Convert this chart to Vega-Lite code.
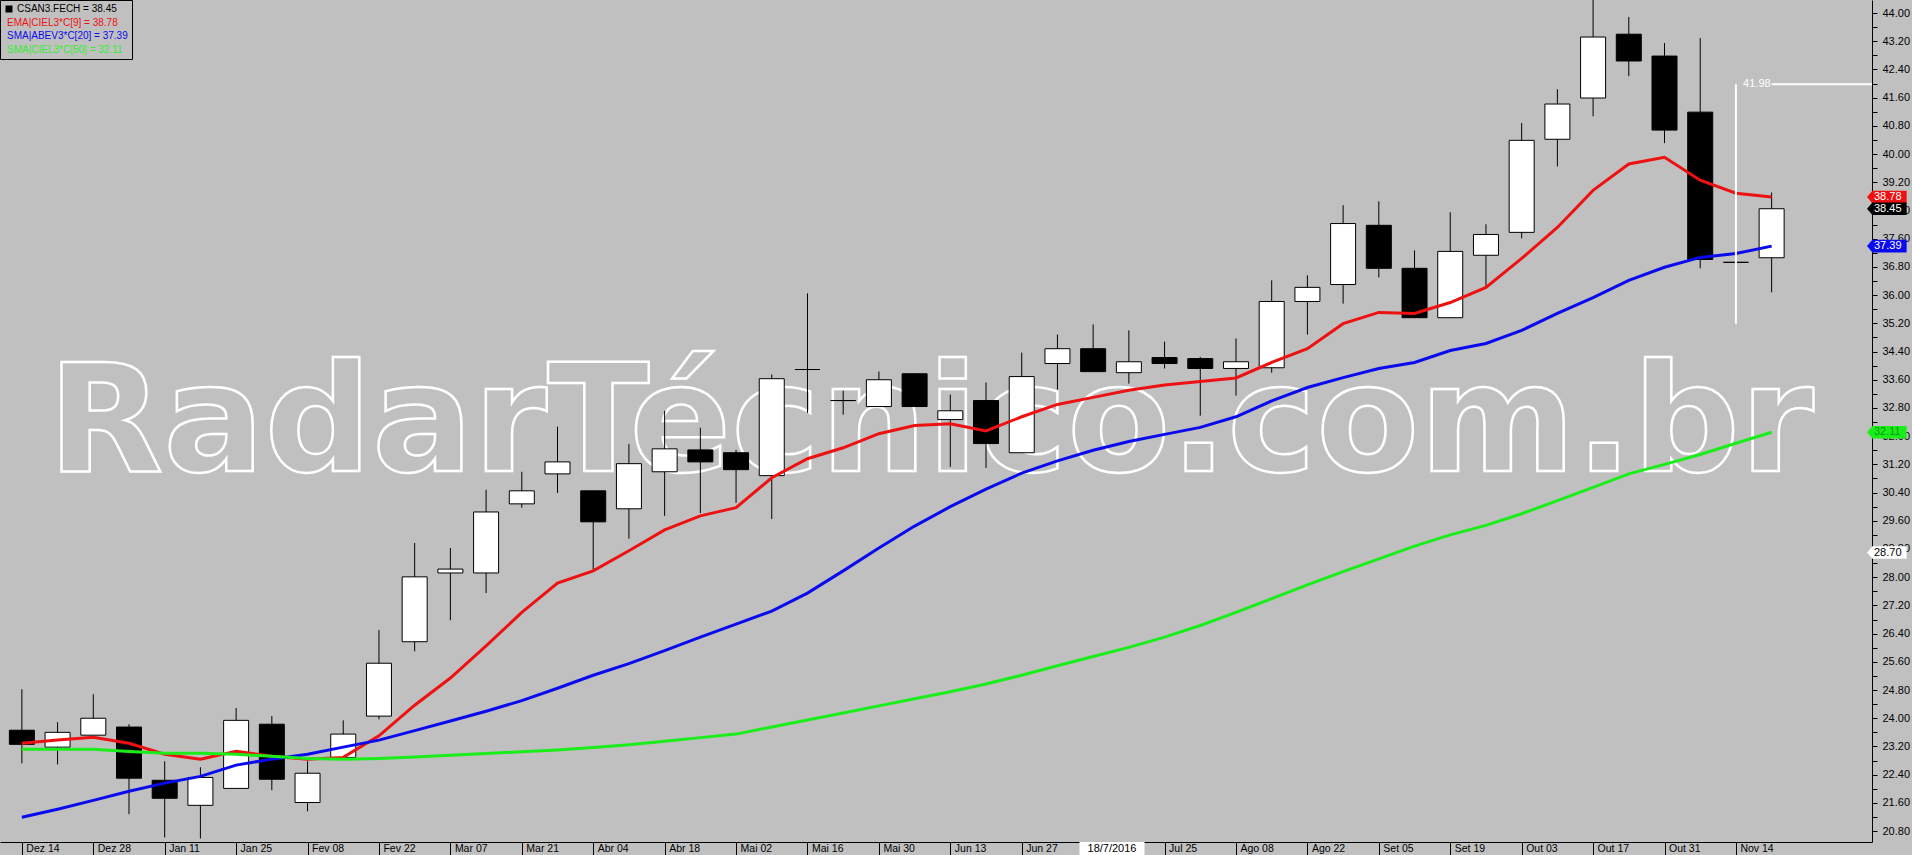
{
  "$schema": "https://vega.github.io/schema/vega-lite/v6.json",
  "width": 1872,
  "height": 842,
  "autosize": {"type": "none"},
  "padding": {"left": 0, "top": 0, "right": 40, "bottom": 13},
  "background": "#c0c0c0",
  "config": {
    "view": {"stroke": null},
    "font": "Liberation Sans",
    "axis": {"labelOverlap": false, "labelFlush": false, "labelBound": false, "grid": false, "title": null}
  },
  "datasets": {
    "semanas": [
      {"d": "2015-12-14", "o": 23.66, "h": 24.82, "l": 22.72, "c": 23.26, "ema9": 23.29, "sma20": 21.19, "sma50": 23.12},
      {"d": "2015-12-21", "o": 23.18, "h": 23.89, "l": 22.69, "c": 23.60, "ema9": 23.38, "sma20": 21.42, "sma50": 23.12},
      {"d": "2015-12-28", "o": 23.52, "h": 24.68, "l": 23.52, "c": 24.00, "ema9": 23.46, "sma20": 21.67, "sma50": 23.12},
      {"d": "2016-01-04", "o": 23.75, "h": 23.83, "l": 21.28, "c": 22.30, "ema9": 23.29, "sma20": 21.93, "sma50": 23.06},
      {"d": "2016-01-11", "o": 22.24, "h": 22.78, "l": 20.62, "c": 21.73, "ema9": 22.98, "sma20": 22.16, "sma50": 23.01},
      {"d": "2016-01-18", "o": 21.53, "h": 22.61, "l": 20.59, "c": 22.32, "ema9": 22.84, "sma20": 22.35, "sma50": 23.01},
      {"d": "2016-01-25", "o": 22.01, "h": 24.29, "l": 22.01, "c": 23.94, "ema9": 23.06, "sma20": 22.67, "sma50": 22.98},
      {"d": "2016-02-01", "o": 23.83, "h": 24.06, "l": 21.96, "c": 22.27, "ema9": 22.92, "sma20": 22.84, "sma50": 22.92},
      {"d": "2016-02-08", "o": 21.61, "h": 22.78, "l": 21.36, "c": 22.44, "ema9": 22.84, "sma20": 22.98, "sma50": 22.86},
      {"d": "2016-02-15", "o": 22.89, "h": 23.94, "l": 22.89, "c": 23.55, "ema9": 22.89, "sma20": 23.18, "sma50": 22.84},
      {"d": "2016-02-22", "o": 24.06, "h": 26.50, "l": 23.97, "c": 25.56, "ema9": 23.50, "sma20": 23.38, "sma50": 22.86},
      {"d": "2016-02-29", "o": 26.17, "h": 28.97, "l": 25.90, "c": 28.01, "ema9": 24.37, "sma20": 23.65, "sma50": 22.90},
      {"d": "2016-03-07", "o": 28.12, "h": 28.83, "l": 26.78, "c": 28.23, "ema9": 25.14, "sma20": 23.92, "sma50": 22.95},
      {"d": "2016-03-14", "o": 28.12, "h": 30.48, "l": 27.55, "c": 29.85, "ema9": 26.05, "sma20": 24.20, "sma50": 23.00},
      {"d": "2016-03-21", "o": 30.08, "h": 30.99, "l": 29.97, "c": 30.45, "ema9": 27.00, "sma20": 24.50, "sma50": 23.05},
      {"d": "2016-03-28", "o": 30.93, "h": 32.27, "l": 30.39, "c": 31.27, "ema9": 27.83, "sma20": 24.85, "sma50": 23.10},
      {"d": "2016-04-04", "o": 30.45, "h": 30.45, "l": 28.21, "c": 29.57, "ema9": 28.18, "sma20": 25.22, "sma50": 23.17},
      {"d": "2016-04-11", "o": 29.94, "h": 31.78, "l": 29.09, "c": 31.22, "ema9": 28.75, "sma20": 25.55, "sma50": 23.25},
      {"d": "2016-04-18", "o": 30.99, "h": 32.72, "l": 29.74, "c": 31.64, "ema9": 29.34, "sma20": 25.92, "sma50": 23.35},
      {"d": "2016-04-25", "o": 31.61, "h": 32.24, "l": 29.82, "c": 31.27, "ema9": 29.74, "sma20": 26.30, "sma50": 23.45},
      {"d": "2016-05-02", "o": 31.53, "h": 31.61, "l": 30.11, "c": 31.05, "ema9": 29.97, "sma20": 26.67, "sma50": 23.55},
      {"d": "2016-05-09", "o": 30.88, "h": 33.75, "l": 29.65, "c": 33.63, "ema9": 30.82, "sma20": 27.04, "sma50": 23.75},
      {"d": "2016-05-16", "o": 33.89, "h": 36.05, "l": 32.66, "c": 33.89, "ema9": 31.36, "sma20": 27.55, "sma50": 23.95},
      {"d": "2016-05-23", "o": 33.01, "h": 33.29, "l": 32.61, "c": 33.01, "ema9": 31.67, "sma20": 28.18, "sma50": 24.15},
      {"d": "2016-05-30", "o": 32.84, "h": 33.83, "l": 32.84, "c": 33.60, "ema9": 32.07, "sma20": 28.83, "sma50": 24.35},
      {"d": "2016-06-06", "o": 33.77, "h": 33.77, "l": 32.84, "c": 32.84, "ema9": 32.30, "sma20": 29.45, "sma50": 24.55},
      {"d": "2016-06-13", "o": 32.47, "h": 33.18, "l": 31.13, "c": 32.72, "ema9": 32.35, "sma20": 30.00, "sma50": 24.75},
      {"d": "2016-06-20", "o": 33.01, "h": 33.52, "l": 31.10, "c": 31.79, "ema9": 32.15, "sma20": 30.50, "sma50": 24.97},
      {"d": "2016-06-27", "o": 31.53, "h": 34.37, "l": 31.53, "c": 33.69, "ema9": 32.55, "sma20": 30.95, "sma50": 25.22},
      {"d": "2016-07-04", "o": 34.06, "h": 34.88, "l": 33.32, "c": 34.48, "ema9": 32.90, "sma20": 31.30, "sma50": 25.49},
      {"d": "2016-07-11", "o": 34.48, "h": 35.17, "l": 33.83, "c": 33.83, "ema9": 33.10, "sma20": 31.60, "sma50": 25.75},
      {"d": "2016-07-18", "o": 33.80, "h": 35.00, "l": 33.49, "c": 34.11, "ema9": 33.30, "sma20": 31.85, "sma50": 26.01},
      {"d": "2016-07-25", "o": 34.23, "h": 34.68, "l": 33.92, "c": 34.06, "ema9": 33.45, "sma20": 32.05, "sma50": 26.30},
      {"d": "2016-08-01", "o": 34.20, "h": 34.25, "l": 32.58, "c": 33.92, "ema9": 33.55, "sma20": 32.25, "sma50": 26.63},
      {"d": "2016-08-08", "o": 33.92, "h": 34.77, "l": 33.15, "c": 34.11, "ema9": 33.65, "sma20": 32.55, "sma50": 27.00},
      {"d": "2016-08-15", "o": 33.94, "h": 36.42, "l": 33.80, "c": 35.82, "ema9": 34.09, "sma20": 33.00, "sma50": 27.39},
      {"d": "2016-08-22", "o": 35.82, "h": 36.56, "l": 34.88, "c": 36.22, "ema9": 34.48, "sma20": 33.38, "sma50": 27.78},
      {"d": "2016-08-29", "o": 36.30, "h": 38.55, "l": 35.76, "c": 38.03, "ema9": 35.19, "sma20": 33.66, "sma50": 28.16},
      {"d": "2016-09-05", "o": 37.98, "h": 38.66, "l": 36.50, "c": 36.76, "ema9": 35.51, "sma20": 33.92, "sma50": 28.52},
      {"d": "2016-09-12", "o": 36.76, "h": 37.27, "l": 35.36, "c": 35.36, "ema9": 35.48, "sma20": 34.09, "sma50": 28.88},
      {"d": "2016-09-19", "o": 35.36, "h": 38.35, "l": 35.36, "c": 37.24, "ema9": 35.79, "sma20": 34.43, "sma50": 29.20},
      {"d": "2016-09-26", "o": 37.13, "h": 38.01, "l": 36.22, "c": 37.72, "ema9": 36.22, "sma20": 34.63, "sma50": 29.47},
      {"d": "2016-10-03", "o": 37.78, "h": 40.88, "l": 37.61, "c": 40.39, "ema9": 37.04, "sma20": 35.00, "sma50": 29.80},
      {"d": "2016-10-10", "o": 40.42, "h": 41.84, "l": 39.65, "c": 41.42, "ema9": 37.92, "sma20": 35.48, "sma50": 30.17},
      {"d": "2016-10-17", "o": 41.59, "h": 44.60, "l": 41.07, "c": 43.32, "ema9": 38.97, "sma20": 35.93, "sma50": 30.55},
      {"d": "2016-10-24", "o": 43.40, "h": 43.89, "l": 42.21, "c": 42.64, "ema9": 39.72, "sma20": 36.42, "sma50": 30.93},
      {"d": "2016-10-31", "o": 42.78, "h": 43.15, "l": 40.31, "c": 40.68, "ema9": 39.91, "sma20": 36.79, "sma50": 31.20},
      {"d": "2016-11-07", "o": 41.19, "h": 43.29, "l": 36.76, "c": 37.01, "ema9": 39.26, "sma20": 37.07, "sma50": 31.48},
      {"d": "2016-11-14", "o": 36.93, "h": 36.93, "l": 36.93, "c": 36.93, "ema9": 38.89, "sma20": 37.18, "sma50": 31.80},
      {"d": "2016-11-21", "o": 37.06, "h": 38.91, "l": 36.08, "c": 38.45, "ema9": 38.78, "sma20": 37.39, "sma50": 32.11}
    ],
    "ultimos": [
      {"serie": "ema9", "valor": 38.78, "rotulo": "38.78"},
      {"serie": "fech", "valor": 38.45, "rotulo": "38.45"},
      {"serie": "sma20", "valor": 37.39, "rotulo": "37.39"},
      {"serie": "sma50", "valor": 32.11, "rotulo": "32.11"}
    ],
    "cursor": [
      {"data": "2016-07-14T16:40:00Z", "preco": 28.70, "rotuloData": "18/7/2016", "rotuloPreco": "28.70"}
    ],
    "marcacao": [
      {"data": "2016-11-14", "inicio": "2016-11-21", "fim": "2016-12-12", "minimo": 35.19, "maximo": 41.98, "rotulo": "41.98"}
    ],
    "marca": [{"texto": "RadarTécnico.com.br"}]
  },
  "layer": [
    {
      "data": {"name": "marca"},
      "mark": {"type": "text", "font": "DejaVu Sans", "fontWeight": "bold", "fontSize": 150, "fill": "transparent", "stroke": "white", "strokeWidth": 2.5, "align": "center", "baseline": "alphabetic"},
      "encoding": {
        "x": {"datum": {"year": 2016, "month": 6, "date": 9, "hours": 4, "minutes": 40, "utc": true}, "type": "temporal"},
        "y": {"datum": 31.0, "type": "quantitative"},
        "text": {"field": "texto"}
      }
    },
    {
      "data": {"name": "semanas"},
      "mark": {"type": "rule", "color": "black", "strokeWidth": 1, "clip": true},
      "encoding": {
        "x": {"field": "d", "type": "temporal", "title": null},
        "y": {"field": "l", "type": "quantitative", "title": null},
        "y2": {"field": "h"}
      }
    },
    {
      "data": {"name": "semanas"},
      "mark": {"type": "bar", "width": 25, "stroke": "black", "strokeWidth": 1, "clip": true},
      "encoding": {
        "x": {
          "field": "d", "type": "temporal", "title": null,
          "scale": {"type": "utc", "domain": [{"year": 2015, "month": 12, "date": 10, "hours": 16, "minutes": 40, "utc": true}, {"year": 2016, "month": 12, "date": 9, "hours": 16, "minutes": 40, "utc": true}]},
          "axis": {
            "orient": "bottom", "grid": false, "domainColor": "black", "domainWidth": 1,
            "tickColor": "black", "tickSize": 13, "tickWidth": 1, "tickCount": 200,
            "labelAlign": "left", "labelBaseline": "middle", "labelPadding": -6.5, "labelOffset": 4,
            "labelColor": "black", "labelFont": "Liberation Sans", "labelFontSize": 10.5,
            "labelOverlap": false, "labelFlush": false, "labelBound": false,
            "values": [
              {"year": 2015, "month": 12, "date": 14, "utc": true},
              {"year": 2015, "month": 12, "date": 28, "utc": true},
              {"year": 2016, "month": 1, "date": 11, "utc": true},
              {"year": 2016, "month": 1, "date": 25, "utc": true},
              {"year": 2016, "month": 2, "date": 8, "utc": true},
              {"year": 2016, "month": 2, "date": 22, "utc": true},
              {"year": 2016, "month": 3, "date": 7, "utc": true},
              {"year": 2016, "month": 3, "date": 21, "utc": true},
              {"year": 2016, "month": 4, "date": 4, "utc": true},
              {"year": 2016, "month": 4, "date": 18, "utc": true},
              {"year": 2016, "month": 5, "date": 2, "utc": true},
              {"year": 2016, "month": 5, "date": 16, "utc": true},
              {"year": 2016, "month": 5, "date": 30, "utc": true},
              {"year": 2016, "month": 6, "date": 13, "utc": true},
              {"year": 2016, "month": 6, "date": 27, "utc": true},
              {"year": 2016, "month": 7, "date": 25, "utc": true},
              {"year": 2016, "month": 8, "date": 8, "utc": true},
              {"year": 2016, "month": 8, "date": 22, "utc": true},
              {"year": 2016, "month": 9, "date": 5, "utc": true},
              {"year": 2016, "month": 9, "date": 19, "utc": true},
              {"year": 2016, "month": 10, "date": 3, "utc": true},
              {"year": 2016, "month": 10, "date": 17, "utc": true},
              {"year": 2016, "month": 10, "date": 31, "utc": true},
              {"year": 2016, "month": 11, "date": 14, "utc": true}
            ],
            "labelExpr": "['Jan','Fev','Mar','Abr','Mai','Jun','Jul','Ago','Set','Out','Nov','Dez'][utcmonth(datum.value)] + ' ' + utcFormat(datum.value, '%d')"
          }
        },
        "y": {
          "field": "o", "type": "quantitative", "title": null,
          "scale": {"domain": [20.49, 44.37], "nice": false, "zero": false},
          "axis": {
            "orient": "right", "grid": false, "domainColor": "black", "domainWidth": 1,
            "tickColor": "black", "tickSize": 5, "tickWidth": 1, "tickCount": 200,
            "labelColor": "black", "labelFont": "Liberation Sans", "labelFontSize": 11, "labelPadding": 5,
            "labelOverlap": false, "labelFlush": false, "labelBound": false,
            "values": [20.8, 21.2, 21.6, 22, 22.4, 22.8, 23.2, 23.6, 24, 24.4, 24.8, 25.2, 25.6, 26, 26.4, 26.8, 27.2, 27.6, 28, 28.4, 28.8, 29.2, 29.6, 30, 30.4, 30.8, 31.2, 31.6, 32, 32.4, 32.8, 33.2, 33.6, 34, 34.4, 34.8, 35.2, 35.6, 36, 36.4, 36.8, 37.2, 37.6, 38, 38.4, 38.8, 39.2, 39.6, 40, 40.4, 40.8, 41.2, 41.6, 42, 42.4, 42.8, 43.2, 43.6, 44],
            "labelExpr": "round(datum.value * 10) % 8 == 0 ? format(datum.value, '.2f') : ''"
          }
        },
        "y2": {"field": "c"},
        "fill": {"condition": {"test": "datum.c > datum.o", "value": "white"}, "value": "black"}
      }
    },
    {
      "data": {"name": "semanas"},
      "transform": [{"fold": ["ema9", "sma20", "sma50"], "as": ["serie", "valor"]}],
      "mark": {"type": "line", "strokeWidth": 3, "clip": true},
      "encoding": {
        "x": {"field": "d", "type": "temporal", "title": null},
        "y": {"field": "valor", "type": "quantitative", "title": null},
        "color": {
          "field": "serie", "type": "nominal",
          "scale": {"domain": ["fech", "ema9", "sma20", "sma50"], "range": ["#000000", "#ee1111", "#0a0aee", "#1aee1a"]},
          "legend": {
            "orient": "top-left", "offset": 0, "title": null, "padding": 4,
            "strokeColor": "black", "fillColor": "#c0c0c0", "cornerRadius": 0,
            "labelFont": "Liberation Sans", "labelFontSize": 10, "rowPadding": 3.5,
            "symbolType": "square", "symbolSize": 49, "labelOffset": 3, "symbolOffset": 0,
            "labelExpr": "datum.label == 'fech' ? 'CSAN3.FECH = 38.45' : datum.label == 'ema9' ? 'EMA|CIEL3*C[9] = 38.78' : datum.label == 'sma20' ? 'SMA|ABEV3*C[20] = 37.39' : 'SMA|CIEL3*C[50] = 32.11'",
            "encode": {
              "symbols": {"update": {"opacity": {"signal": "datum.value == 'fech' ? 1 : 0"}, "fill": {"value": "#202020"}, "stroke": {"value": "#202020"}, "strokeWidth": {"value": 0}}},
              "labels": {"update": {"fill": {"signal": "datum.value == 'ema9' ? '#ee1111' : datum.value == 'sma20' ? '#0a0aee' : datum.value == 'sma50' ? '#33ee33' : '#000000'"}, "dx": {"signal": "datum.value == 'fech' ? 0 : -10"}}}
            }
          }
        }
      }
    },
    {
      "data": {"name": "marcacao"},
      "mark": {"type": "rule", "color": "white", "strokeWidth": 2},
      "encoding": {
        "x": {"field": "data", "type": "temporal"},
        "y": {"field": "minimo", "type": "quantitative"},
        "y2": {"field": "maximo"}
      }
    },
    {
      "data": {"name": "marcacao"},
      "mark": {"type": "rule", "color": "white", "strokeWidth": 2, "clip": true},
      "encoding": {
        "x": {"field": "inicio", "type": "temporal"},
        "x2": {"field": "fim"},
        "y": {"field": "maximo", "type": "quantitative"}
      }
    },
    {
      "data": {"name": "marcacao"},
      "mark": {"type": "text", "color": "white", "fontSize": 11, "font": "Liberation Sans", "align": "right", "baseline": "middle", "dx": -1},
      "encoding": {
        "x": {"field": "inicio", "type": "temporal"},
        "y": {"field": "maximo", "type": "quantitative"},
        "text": {"field": "rotulo"}
      }
    },
    {
      "data": {"name": "ultimos"},
      "mark": {"type": "point", "filled": true, "opacity": 1, "size": 1296, "shape": "M0,0L0.3,-0.35L2.2,-0.35L2.2,0.35L0.3,0.35Z"},
      "encoding": {
        "x": {"datum": {"year": 2016, "month": 12, "date": 9, "hours": 16, "minutes": 40, "utc": true}, "type": "temporal"},
        "y": {"field": "valor", "type": "quantitative"},
        "color": {"field": "serie", "type": "nominal"}
      }
    },
    {
      "data": {"name": "ultimos"},
      "mark": {"type": "text", "fontSize": 11, "font": "Liberation Sans", "align": "left", "baseline": "middle", "dx": 7},
      "encoding": {
        "x": {"datum": {"year": 2016, "month": 12, "date": 9, "hours": 16, "minutes": 40, "utc": true}, "type": "temporal"},
        "y": {"field": "valor", "type": "quantitative"},
        "text": {"field": "rotulo"},
        "fill": {"condition": {"test": "datum.serie == 'sma50'", "value": "#0b9a0b"}, "value": "white"}
      }
    },
    {
      "data": {"name": "cursor"},
      "mark": {"type": "point", "filled": true, "opacity": 1, "color": "white", "size": 1296, "shape": "M0,0L0.3,-0.35L2.2,-0.35L2.2,0.35L0.3,0.35Z"},
      "encoding": {
        "x": {"datum": {"year": 2016, "month": 12, "date": 9, "hours": 16, "minutes": 40, "utc": true}, "type": "temporal"},
        "y": {"field": "preco", "type": "quantitative"}
      }
    },
    {
      "data": {"name": "cursor"},
      "mark": {"type": "text", "fontSize": 11, "font": "Liberation Sans", "align": "left", "baseline": "middle", "dx": 7, "color": "black"},
      "encoding": {
        "x": {"datum": {"year": 2016, "month": 12, "date": 9, "hours": 16, "minutes": 40, "utc": true}, "type": "temporal"},
        "y": {"field": "preco", "type": "quantitative"},
        "text": {"field": "rotuloPreco"}
      }
    },
    {
      "data": {"name": "cursor"},
      "mark": {"type": "point", "filled": true, "opacity": 1, "color": "white", "size": 4225, "shape": "M-1,-0.2L1,-0.2L1,0.2L-1,0.2Z"},
      "encoding": {
        "x": {"field": "data", "type": "temporal"},
        "y": {"datum": 20.305, "type": "quantitative"}
      }
    },
    {
      "data": {"name": "cursor"},
      "mark": {"type": "text", "fontSize": 11, "font": "Liberation Sans", "align": "center", "baseline": "middle", "color": "black"},
      "encoding": {
        "x": {"field": "data", "type": "temporal"},
        "y": {"datum": 20.305, "type": "quantitative"},
        "text": {"field": "rotuloData"}
      }
    }
  ]
}
